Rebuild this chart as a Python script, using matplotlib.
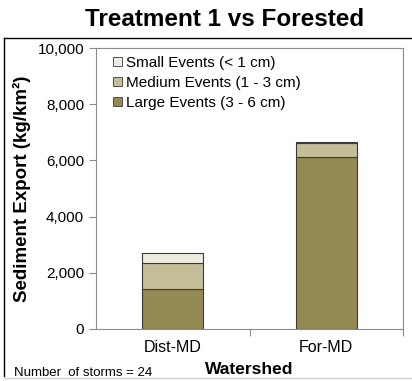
import matplotlib.pyplot as plt
import matplotlib.patches as mpatches
from matplotlib.ticker import FuncFormatter

watersheds = ["Dist-MD", "For-MD"]
large = [1420, 6120]
medium = [930, 490]
small = [350, 40]
series_names = ["Small Events (< 1 cm)", "Medium Events (1 - 3 cm)", "Large Events (3 - 6 cm)"]
colors = {"large": "#938953", "medium": "#c4bd97", "small": "#eeece1"}

plt.rcParams["font.family"] = ["Liberation Sans", "DejaVu Sans"]

fig = plt.figure(figsize=(4.12, 3.81), dpi=100)
ax = fig.add_axes([96 / 412, 1 - 329 / 381, 307 / 412, 281 / 381])

x = range(len(watersheds))
edge = "#3a3a3a"
ax.bar(x, large, width=0.4, color=colors["large"], edgecolor=edge, linewidth=0.8)
ax.bar(x, medium, width=0.4, bottom=large, color=colors["medium"], edgecolor=edge, linewidth=0.8)
bottom3 = [a + b for a, b in zip(large, medium)]
ax.bar(x, small, width=0.4, bottom=bottom3, color=colors["small"], edgecolor=edge, linewidth=0.8)

ax.set_xlim(-0.5, 1.5)
ax.set_ylim(0, 10000)
ax.set_yticks(range(0, 10001, 2000))
ax.yaxis.set_major_formatter(FuncFormatter(lambda v, p: f"{int(v):,}"))
ax.set_xticks([0.5, 1.5])
ax.set_xticklabels(["", ""])
# category names sit centred under each bar, between the boundary ticks
for i, name in enumerate(watersheds):
    ax.text(i, -19 / 281, name, ha="center", va="center", fontsize=11.5,
            transform=ax.get_xaxis_transform(), clip_on=False)

for s in ["left", "bottom", "right", "top"]:
    ax.spines[s].set_color("#8c8c8c")
ax.tick_params(axis="y", length=5, color="#8c8c8c", labelsize=11, direction="out")
ax.tick_params(axis="x", length=5, color="#8c8c8c", direction="out")

ax.set_ylabel("Sediment Export (kg/km²)", fontsize=13.5, fontweight="bold", labelpad=5)
fig.text(249.5 / 412, 1 - 369 / 381, "Watershed", ha="center", va="center", fontsize=12.5, fontweight="bold")
fig.text(14 / 412, 1 - 373 / 381, "Number  of storms = 24", ha="left", va="center", fontsize=9.5)
fig.text(225 / 412, 1 - 19 / 381, "Treatment 1 vs Forested", ha="center", va="center", fontsize=17.5, fontweight="bold")

handles = [mpatches.Patch(facecolor=colors[k], edgecolor=edge, linewidth=0.6) for k in ["small", "medium", "large"]]
ax.legend(handles, series_names, loc="upper left", bbox_to_anchor=(0.025, 1.005), frameon=False,
          fontsize=11, handlelength=0.6, handleheight=0.6, handletextpad=0.25, labelspacing=0.4, borderaxespad=0.2)

# outer frame
fig.add_artist(plt.Line2D([4 / 412, 4 / 412], [1 - 38 / 381, 1 - 376 / 381], color="black", lw=1))
fig.add_artist(plt.Line2D([4 / 412, 1], [1 - 38 / 381, 1 - 38 / 381], color="black", lw=1))
fig.add_artist(plt.Line2D([4 / 412, 1], [1 - 378 / 381, 1 - 378 / 381], color="#d0d0d0", lw=1))

fig.savefig("out.png", dpi=100)
